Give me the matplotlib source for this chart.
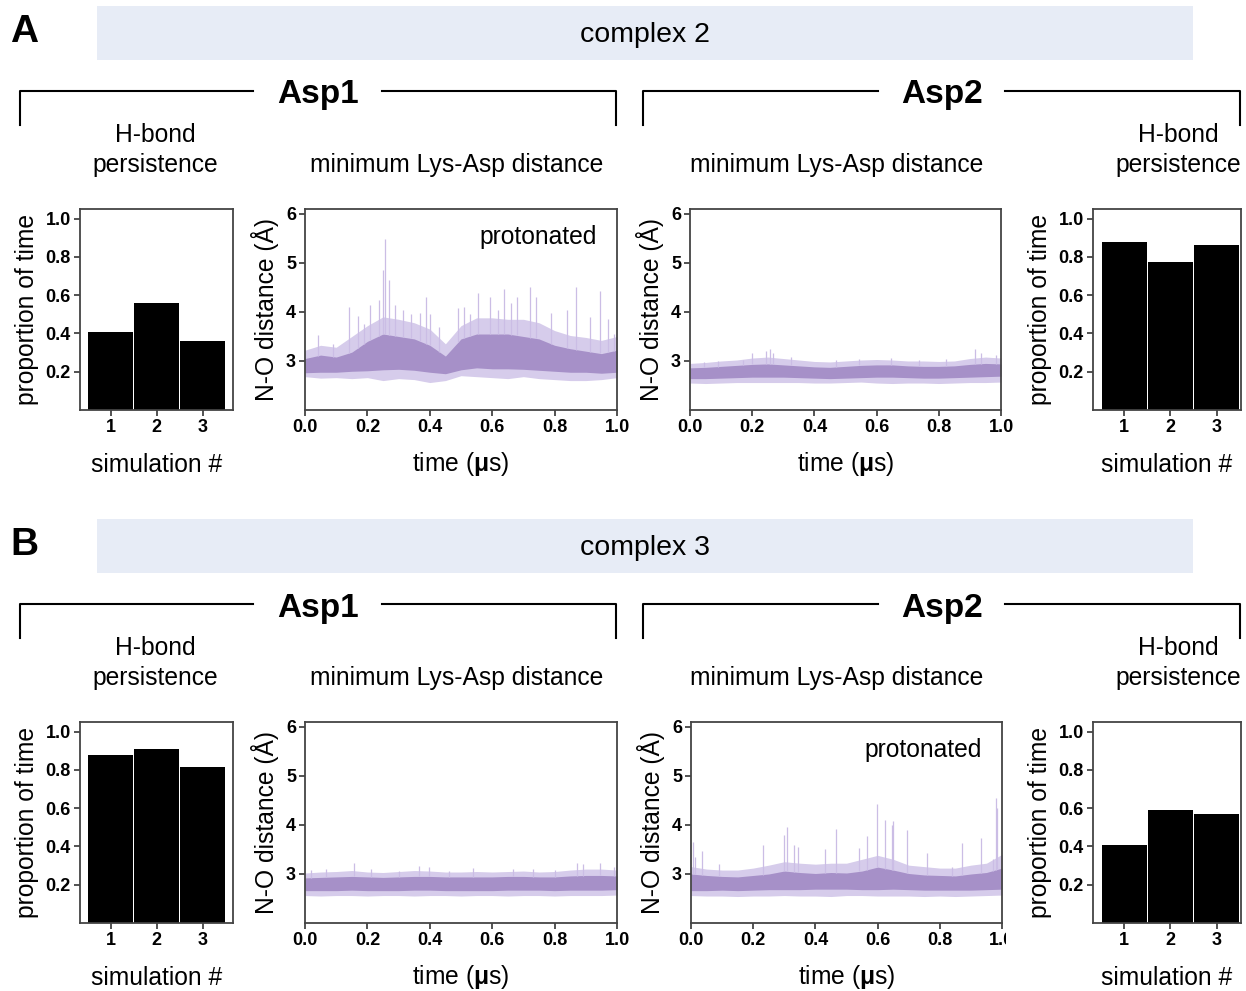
import numpy as np
import matplotlib
matplotlib.use("Agg")
import matplotlib.pyplot as plt
from matplotlib.patches import Rectangle

plt.rcParams["font.family"] = ["Liberation Sans", "DejaVu Sans"]
plt.rcParams["mathtext.fontset"] = "custom"
plt.rcParams["mathtext.rm"] = "Liberation Sans"
plt.rcParams["mathtext.bf"] = "Liberation Sans:bold"

# ---- data ----
sims = [1, 2, 3]
persist_c2_asp1 = [0.41, 0.56, 0.36]
persist_c2_asp2 = [0.88, 0.775, 0.86]
persist_c3_asp1 = [0.878, 0.91, 0.816]
persist_c3_asp2 = [0.41, 0.59, 0.57]

t_grid = [0.0, 0.05, 0.10, 0.15, 0.20, 0.25, 0.30, 0.35, 0.40, 0.45, 0.50,
          0.55, 0.60, 0.65, 0.70, 0.75, 0.80, 0.85, 0.90, 0.95, 1.0]

# complex 2, Asp1 (protonated)
c2a1_core_lo = [2.76, 2.77, 2.77, 2.79, 2.80, 2.82, 2.83, 2.81, 2.77, 2.74, 2.82, 2.86, 2.84, 2.84, 2.83, 2.81, 2.79, 2.77, 2.77, 2.75, 2.77]
c2a1_core_hi = [3.05, 3.12, 3.08, 3.18, 3.40, 3.55, 3.50, 3.45, 3.32, 3.10, 3.45, 3.55, 3.55, 3.55, 3.50, 3.45, 3.32, 3.25, 3.20, 3.15, 3.22]
c2a1_out_lo = [2.68, 2.65, 2.66, 2.64, 2.66, 2.60, 2.64, 2.62, 2.56, 2.60, 2.70, 2.68, 2.66, 2.64, 2.68, 2.64, 2.62, 2.60, 2.60, 2.62, 2.66]
c2a1_out_hi = [3.22, 3.32, 3.28, 3.50, 3.72, 3.90, 3.85, 3.78, 3.65, 3.35, 3.72, 3.88, 3.88, 3.85, 3.85, 3.78, 3.62, 3.52, 3.48, 3.42, 3.50]
c2a1_spike_t = [0.043, 0.09, 0.142, 0.17, 0.19, 0.209, 0.238, 0.251, 0.257, 0.27, 0.29, 0.315, 0.34, 0.37, 0.388, 0.40, 0.43,
                0.49, 0.51, 0.53, 0.554, 0.594, 0.62, 0.638, 0.66, 0.68, 0.722, 0.74, 0.79, 0.84, 0.869, 0.914, 0.944, 0.97, 0.99]
c2a1_spike_v = [3.53, 3.35, 4.10, 3.92, 3.75, 4.14, 4.24, 4.86, 5.49, 4.65, 4.14, 4.05, 3.95, 3.98, 4.30, 3.95, 3.70,
                4.08, 4.10, 3.95, 4.38, 4.30, 4.05, 4.47, 4.18, 4.30, 4.50, 4.30, 3.98, 4.05, 4.50, 3.90, 4.42, 3.85, 3.55]

# complex 2, Asp2
c2a2_core_lo = [2.64, 2.64, 2.65, 2.66, 2.67, 2.67, 2.67, 2.66, 2.65, 2.64, 2.65, 2.66, 2.67, 2.67, 2.66, 2.65, 2.65, 2.66, 2.67, 2.68, 2.69]
c2a2_core_hi = [2.86, 2.87, 2.89, 2.91, 2.93, 2.94, 2.92, 2.90, 2.88, 2.87, 2.89, 2.91, 2.92, 2.92, 2.90, 2.89, 2.89, 2.90, 2.93, 2.95, 2.94]
c2a2_out_lo = [2.55, 2.54, 2.55, 2.56, 2.56, 2.56, 2.56, 2.56, 2.55, 2.55, 2.56, 2.57, 2.55, 2.54, 2.55, 2.55, 2.54, 2.55, 2.56, 2.56, 2.57]
c2a2_out_hi = [2.95, 2.97, 3.00, 3.02, 3.06, 3.08, 3.05, 3.02, 2.99, 2.98, 3.00, 3.02, 3.03, 3.02, 3.00, 3.00, 2.99, 3.00, 3.05, 3.08, 3.06]
c2a2_spike_t = [0.046, 0.09, 0.169, 0.20, 0.244, 0.257, 0.268, 0.325, 0.47, 0.545, 0.646, 0.737, 0.823, 0.915, 0.935, 0.985]
c2a2_spike_v = [2.98, 3.00, 3.02, 3.16, 3.20, 3.24, 3.16, 3.09, 3.02, 3.05, 3.07, 3.03, 3.05, 3.24, 3.16, 3.12]

# complex 3, Asp1
c3a1_core_lo = [2.66, 2.66, 2.66, 2.67, 2.66, 2.66, 2.66, 2.67, 2.67, 2.66, 2.66, 2.66, 2.66, 2.67, 2.67, 2.67, 2.66, 2.67, 2.67, 2.67, 2.68]
c3a1_core_hi = [2.92, 2.93, 2.94, 2.95, 2.94, 2.93, 2.94, 2.95, 2.95, 2.94, 2.94, 2.94, 2.94, 2.95, 2.95, 2.94, 2.94, 2.96, 2.97, 2.97, 2.96]
c3a1_out_lo = [2.56, 2.55, 2.56, 2.56, 2.55, 2.56, 2.56, 2.55, 2.56, 2.56, 2.55, 2.56, 2.56, 2.55, 2.56, 2.56, 2.55, 2.56, 2.56, 2.56, 2.57]
c3a1_out_hi = [3.02, 3.04, 3.05, 3.07, 3.04, 3.03, 3.05, 3.07, 3.06, 3.04, 3.04, 3.05, 3.04, 3.05, 3.06, 3.04, 3.05, 3.08, 3.10, 3.10, 3.08]
c3a1_spike_t = [0.02, 0.067, 0.157, 0.21, 0.30, 0.364, 0.396, 0.46, 0.54, 0.668, 0.73, 0.80, 0.872, 0.89, 0.946, 0.99]
c3a1_spike_v = [3.08, 3.10, 3.22, 3.10, 3.06, 3.16, 3.15, 3.07, 3.12, 3.10, 3.10, 3.08, 3.22, 3.20, 3.22, 3.15]

# complex 3, Asp2 (protonated)
c3a2_core_lo = [2.66, 2.66, 2.67, 2.66, 2.67, 2.68, 2.68, 2.68, 2.69, 2.69, 2.69, 2.68, 2.68, 2.69, 2.68, 2.67, 2.67, 2.67, 2.67, 2.68, 2.69]
c3a2_core_hi = [3.00, 2.97, 2.95, 2.94, 2.97, 3.00, 3.06, 3.03, 3.01, 3.03, 3.02, 3.06, 3.14, 3.08, 3.01, 2.98, 2.97, 2.96, 3.00, 3.03, 3.12]
c3a2_out_lo = [2.56, 2.55, 2.55, 2.54, 2.55, 2.55, 2.56, 2.55, 2.55, 2.54, 2.56, 2.56, 2.55, 2.55, 2.55, 2.54, 2.55, 2.54, 2.55, 2.56, 2.57]
c3a2_out_hi = [3.15, 3.10, 3.08, 3.08, 3.12, 3.18, 3.25, 3.22, 3.20, 3.22, 3.22, 3.30, 3.38, 3.30, 3.18, 3.15, 3.12, 3.12, 3.18, 3.22, 3.40]
c3a2_spike_t = [0.005, 0.014, 0.035, 0.09, 0.23, 0.30, 0.31, 0.33, 0.345, 0.43, 0.467, 0.54, 0.565, 0.599, 0.625,
                0.645, 0.651, 0.695, 0.76, 0.84, 0.872, 0.933, 0.97, 0.982, 0.985]
c3a2_spike_v = [3.65, 3.35, 3.46, 3.20, 3.59, 3.80, 3.95, 3.59, 3.55, 3.50, 3.92, 3.52, 3.78, 4.43, 4.10,
                4.00, 4.08, 3.90, 3.42, 3.15, 3.63, 3.73, 3.30, 4.55, 4.35]

W, H = 1246, 991
SPINE = "#444444"
CORE = "#a690c8"
LIGHT = "#d6cceb"
SPIKE = "#cbbde5"
TXT = 17.7
TICK = 13


def px_axes(fig, x0, x1, y0, y1):
    return fig.add_axes([x0 / W, 1 - y1 / H, (x1 - x0) / W, (y1 - y0) / H])


def style(ax):
    for s in ax.spines.values():
        s.set_color(SPINE)
        s.set_linewidth(1.3)
    ax.tick_params(direction="out", length=4.5, width=1.3, color=SPINE,
                   labelsize=TICK, pad=2, top=False, right=False)
    for lab in ax.get_xticklabels() + ax.get_yticklabels():
        lab.set_fontweight("bold")


def bar_panel(ax, values):
    ax.bar(sims, values, width=0.97, color="black")
    ax.set_xlim(0.33, 3.66)
    ax.set_ylim(0, 1.05)
    ax.set_yticks([0.2, 0.4, 0.6, 0.8, 1.0])
    ax.set_yticklabels(["0.2", "0.4", "0.6", "0.8", "1.0"])
    ax.set_xticks(sims)
    ax.set_ylabel("proportion of time", fontsize=TXT, labelpad=5)
    ax.set_xlabel("simulation #", fontsize=TXT, labelpad=12)
    style(ax)


def trace_panel(ax, core_lo, core_hi, out_lo, out_hi, spike_t, spike_v, note=None):
    ax.fill_between(t_grid, out_lo, out_hi, color=LIGHT, lw=0)
    base = np.interp(spike_t, t_grid, core_hi)
    ax.vlines(spike_t, base, spike_v, color=SPIKE, lw=0.9)
    ax.fill_between(t_grid, core_lo, core_hi, color=CORE, lw=0)
    ax.set_xlim(0, 1)
    ax.set_ylim(2, 6.1)
    ax.set_yticks([3, 4, 5, 6])
    ax.set_xticks([0, 0.2, 0.4, 0.6, 0.8, 1.0])
    ax.set_xticklabels(["0.0", "0.2", "0.4", "0.6", "0.8", "1.0"])
    ax.set_ylabel("N-O distance (Å)", fontsize=TXT, labelpad=5)
    ax.set_xlabel("time ($\\mathbf{μ}$s)", fontsize=TXT, labelpad=10)
    if note:
        ax.text(0.935, 0.86, note, transform=ax.transAxes, ha="right", va="center", fontsize=TXT)
    style(ax)


fig = plt.figure(figsize=(W / 100, H / 100), dpi=100)

bg = fig.add_axes([0, 0, 1, 1], zorder=-1)
bg.set_xlim(0, W)
bg.set_ylim(H, 0)
bg.axis("off")

panels = [("A", "complex 2", 0), ("B", "complex 3", 513)]
for letter, name, dy in panels:
    bg.text(10, 32 + dy, letter, fontsize=28, fontweight="bold", ha="left", va="center")
    bg.add_patch(Rectangle((97, 6 + dy), 1096, 54, facecolor="#e7ecf6", edgecolor="none"))
    bg.text(645, 35 + dy, name, fontsize=20.5, ha="center", va="center")
    for xl, xg0, xg1, xr, xc, lab in [(20, 253, 382, 616, 318, "Asp1"), (643, 878, 1005, 1240, 942, "Asp2")]:
        bg.plot([xl, xl, xg0], [125 + dy, 91 + dy, 91 + dy], color="black", lw=1.5)
        bg.plot([xg1, xr, xr], [91 + dy, 91 + dy, 125 + dy], color="black", lw=1.5)
        bg.text(xc, 95 + dy, lab, fontsize=24, fontweight="bold", ha="center", va="center")
    for xc in (155, 1178):
        bg.text(xc, 135 + dy, "H-bond", fontsize=TXT, ha="center", va="center")
        bg.text(xc, 165 + dy, "persistence", fontsize=TXT, ha="center", va="center")
    for xc in (457, 837):
        bg.text(xc, 165 + dy, "minimum Lys-Asp distance", fontsize=TXT, ha="center", va="center")

# complex 2
ax = px_axes(fig, 80, 233, 209, 410)
bar_panel(ax, persist_c2_asp1)
ax = px_axes(fig, 305, 617, 209, 410)
trace_panel(ax, c2a1_core_lo, c2a1_core_hi, c2a1_out_lo, c2a1_out_hi, c2a1_spike_t, c2a1_spike_v, "protonated")
ax = px_axes(fig, 690, 1001, 209, 410)
trace_panel(ax, c2a2_core_lo, c2a2_core_hi, c2a2_out_lo, c2a2_out_hi, c2a2_spike_t, c2a2_spike_v)
ax = px_axes(fig, 1093, 1241, 209, 410)
bar_panel(ax, persist_c2_asp2)
ax.set_xlim(0.33, 3.52)

# complex 3
ax = px_axes(fig, 80, 233, 722, 923)
bar_panel(ax, persist_c3_asp1)
ax = px_axes(fig, 305, 617, 722, 923)
trace_panel(ax, c3a1_core_lo, c3a1_core_hi, c3a1_out_lo, c3a1_out_hi, c3a1_spike_t, c3a1_spike_v)
ax = px_axes(fig, 691, 1002, 722, 923)
trace_panel(ax, c3a2_core_lo, c3a2_core_hi, c3a2_out_lo, c3a2_out_hi, c3a2_spike_t, c3a2_spike_v, "protonated")
ax = px_axes(fig, 1093, 1241, 722, 923)
bar_panel(ax, persist_c3_asp2)
ax.set_xlim(0.33, 3.52)

# the reference crops the last tick label of the lower Asp2 trace
top = fig.add_axes([0, 0, 1, 1], zorder=5)
top.set_xlim(0, W)
top.set_ylim(H, 0)
top.axis("off")
top.add_patch(Rectangle((1006, 926), 18, 24, facecolor="white", edgecolor="none"))

fig.savefig("out.png", dpi=100)
